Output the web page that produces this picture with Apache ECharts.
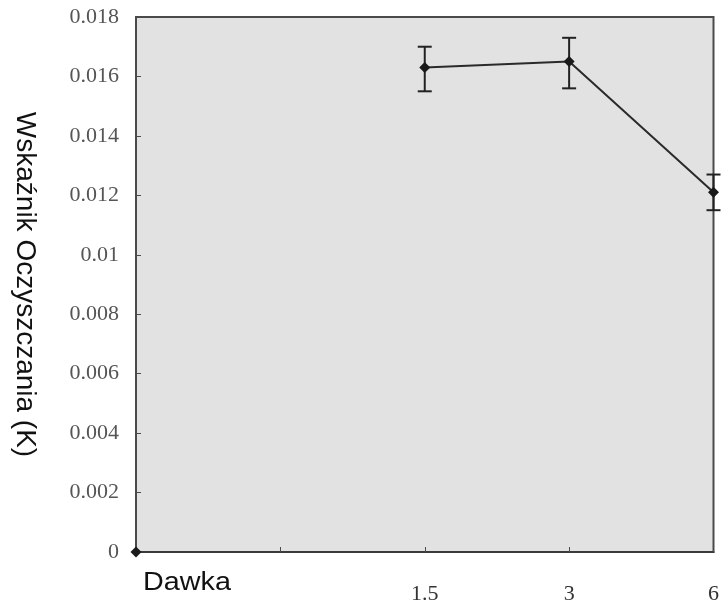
<!DOCTYPE html>
<html>
<head>
<meta charset="utf-8">
<script src="https://cdn.jsdelivr.net/npm/echarts@6/dist/echarts.min.js"></script>
<style>html,body{margin:0;padding:0;background:#fff;}#c{width:722px;height:605px;}</style>
</head>
<body>
<div id="c"></div>
<script>
const categories = ['0', '', '1.5', '3', '6'];
const tickLabels = ['', '', '1.5', '3', '6'];
const values = [0, null, 0.0163, 0.0165, 0.0121];
const errLow = [null, null, 0.0155, 0.0156, 0.0115];
const errHigh = [null, null, 0.0170, 0.0173, 0.0127];
const yTicks = ['0', '0.002', '0.004', '0.006', '0.008', '0.01', '0.012', '0.014', '0.016', '0.018'];

const errData = [];
for (let i = 0; i < categories.length; i++) {
  if (errLow[i] != null) errData.push([i, errLow[i], errHigh[i]]);
}

const chart = echarts.init(document.getElementById('c'));
chart.setOption({
  animation: false,
  backgroundColor: '#ffffff',
  grid: {
    left: 136, top: 17, right: 6, bottom: 53,
    show: true, backgroundColor: '#e2e2e2', borderColor: '#4a4a4a', borderWidth: 2
  },
  xAxis: {
    type: 'category',
    data: categories,
    boundaryGap: false,
    axisLine: { lineStyle: { color: '#3a3a3a', width: 2 } },
    axisTick: { show: true, inside: true, length: 5, lineStyle: { color: '#4a4a4a' } },
    axisLabel: {
      margin: 31, color: '#333', fontFamily: 'Liberation Serif', fontSize: 22,
      formatter: (v, i) => tickLabels[i]
    },
    splitLine: { show: false }
  },
  yAxis: {
    type: 'value',
    min: 0, max: 0.018, interval: 0.002,
    name: 'Wskaźnik Oczyszczania (K)',
    nameLocation: 'middle',
    nameRotate: -90,
    nameGap: 97,
    nameTextStyle: { fontFamily: 'Liberation Sans', fontSize: 28, color: '#111' },
    axisLine: { show: true, lineStyle: { color: '#4a4a4a', width: 2 } },
    axisTick: { show: true, inside: true, length: 5, lineStyle: { color: '#4a4a4a' } },
    axisLabel: {
      margin: 17, color: '#555', fontFamily: 'Liberation Serif', fontSize: 22,
      formatter: (v) => { const i = Math.round(v / 0.002); return yTicks[i] != null ? yTicks[i] : ''; }
    },
    splitLine: { show: false }
  },
  graphic: [{
    type: 'text', left: 143, top: 571, scaleX: 1.15,
    style: { text: 'Dawka', font: '25px "Liberation Sans"', fill: '#111' }
  }],
  series: [
    {
      type: 'custom',
      data: errData,
      z: 3,
      renderItem: function (params, api) {
        const x = api.coord([api.value(0), api.value(1)])[0];
        const lo = api.coord([api.value(0), api.value(1)])[1];
        const hi = api.coord([api.value(0), api.value(2)])[1];
        const w = 7;
        const st = { stroke: '#222', lineWidth: 2 };
        return {
          type: 'group',
          children: [
            { type: 'line', shape: { x1: x, y1: lo, x2: x, y2: hi }, style: st },
            { type: 'line', shape: { x1: x - w, y1: lo, x2: x + w, y2: lo }, style: st },
            { type: 'line', shape: { x1: x - w, y1: hi, x2: x + w, y2: hi }, style: st }
          ]
        };
      }
    },
    {
      type: 'line',
      data: values,
      connectNulls: false,
      symbol: 'diamond',
      symbolSize: 11,
      z: 4,
      itemStyle: { color: '#1a1a1a' },
      lineStyle: { color: '#2a2a2a', width: 2 }
    }
  ]
});
</script>
</body>
</html>
